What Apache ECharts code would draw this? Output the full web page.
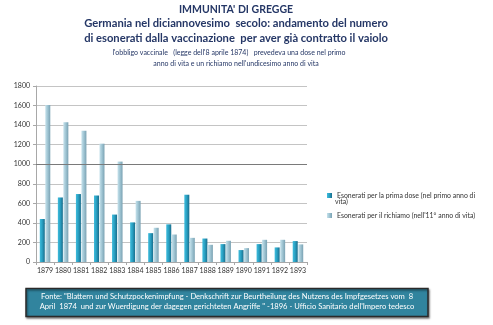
<!DOCTYPE html>
<html><head><meta charset="utf-8">
<script src="https://cdn.jsdelivr.net/npm/echarts@6/dist/echarts.min.js"></script>
<style>html,body{margin:0;padding:0;background:#fff}#c{width:493px;height:325px}</style>
</head><body><div id="c"></div>
<script>
const years = ['1879','1880','1881','1882','1883','1884','1885','1886','1887','1888','1889','1890','1891','1892','1893'];
const primaDose = [440, 660, 695, 680, 485, 405, 295, 385, 688, 240, 183, 122, 183, 149, 214];
const richiamo = [1605, 1430, 1342, 1210, 1027, 625, 350, 281, 247, 176, 217, 142, 227, 227, 180];
const yTicks = [0, 200, 400, 600, 800, 1000, 1200, 1400, 1600, 1800];
const nameA = 'Esonerati per la prima dose (nel primo anno di vita)';
const nameB = "Esonerati per il richiamo (nell'11° anno di vita)";

const F = 'Lato, "Open Sans", sans-serif';
const chart = echarts.init(document.getElementById('c'), null, {renderer: 'canvas'});
const gradA = new echarts.graphic.LinearGradient(0, 0, 1, 0, [
  {offset: 0, color: '#3fbcdc'}, {offset: 0.45, color: '#2aa2c4'}, {offset: 1, color: '#196d8c'}]);
const gradB = new echarts.graphic.LinearGradient(0, 0, 1, 0, [
  {offset: 0, color: '#c6e2ec'}, {offset: 0.45, color: '#a2c7d5'}, {offset: 1, color: '#7aa2b3'}]);
const navy = '#253766';
chart.setOption({
  animation: false,
  grid: {left: 36, right: 186, top: 86, bottom: 63},
  xAxis: {
    type: 'category', data: years,
    axisLine: {lineStyle: {color: '#a8a8a8'}},
    axisTick: {show: true, length: 3, lineStyle: {color: '#a8a8a8'}},
    axisLabel: {fontSize: 7, color: '#333', margin: 5, fontFamily: F, interval: 0}
  },
  yAxis: {
    type: 'value', min: yTicks[0], max: yTicks[yTicks.length - 1], interval: 200,
    axisLine: {show: true, lineStyle: {color: '#a8a8a8'}},
    axisTick: {show: true, length: 3, lineStyle: {color: '#a8a8a8'}},
    axisLabel: {fontSize: 7, color: '#333', margin: 6, fontFamily: F, formatter: v => String(v)},
    splitLine: {lineStyle: {color: '#c4c4c4', width: 1}}
  },
  legend: [
    {left: 327, top: 192, padding: 0, orient: 'vertical', itemWidth: 5, itemHeight: 5,
     data: [{name: nameA, icon: 'rect'}],
     formatter: () => 'Esonerati per la prima dose (nel primo anno di',
     textStyle: {fontSize: 6.9, color: '#333', fontFamily: F}},
    {left: 327, top: 212, padding: 0, orient: 'vertical', itemWidth: 5, itemHeight: 5,
     data: [{name: nameB, icon: 'rect'}],
     textStyle: {fontSize: 6.9, color: '#333', fontFamily: F}}
  ],
  series: [
    {name: nameA, type: 'bar', data: primaDose, barWidth: 5, barGap: '10%',
     itemStyle: {color: gradA},
     markLine: {silent: true, symbol: 'none', label: {show: false},
       lineStyle: {color: '#7a7a7a', type: 'solid', width: 1}, data: [{yAxis: 1000}]}},
    {name: nameB, type: 'bar', data: richiamo, barWidth: 5, barGap: '10%',
     itemStyle: {color: gradB}}
  ],
  graphic: [
    {type: 'text', x: 236, y: 4, style: {text: "IMMUNITA' DI GREGGE", fontSize: 10.5, fontWeight: 'bold', fill: navy, fontFamily: F, align: 'center'}},
    {type: 'text', x: 236, y: 18, style: {text: 'Germania nel diciannovesimo  secolo: andamento del numero', fontSize: 11.2, fontWeight: 'bold', fill: navy, fontFamily: F, align: 'center'}},
    {type: 'text', x: 236, y: 33, style: {text: 'di esonerati dalla vaccinazione  per aver già contratto il vaiolo', fontSize: 11.2, fontWeight: 'bold', fill: navy, fontFamily: F, align: 'center'}},
    {type: 'text', x: 229, y: 49, style: {text: "l'obbligo vaccinale   (legge dell'8 aprile 1874)   prevedeva una dose nel primo", fontSize: 7, fill: navy, fontFamily: F, align: 'center'}},
    {type: 'text', x: 236, y: 60, style: {text: "anno di vita e un richiamo nell'undicesimo anno di vita", fontSize: 7, fill: navy, fontFamily: F, align: 'center'}},
    {type: 'text', x: 335, y: 198, style: {text: 'vita)', fontSize: 6.9, fill: '#333', fontFamily: F}},
    {type: 'rect', shape: {x: 26, y: 288.5, width: 402, height: 28},
     style: {fill: '#31849e', stroke: '#2a2a2a', lineWidth: 1.5, shadowBlur: 2, shadowOffsetX: 1, shadowOffsetY: 1.5, shadowColor: 'rgba(0,0,0,0.45)'}},
    {type: 'text', x: 227, y: 292.5, style: {text: 'Fonte: "Blattern und Schutzpockenimpfung - Denkschrift zur Beurtheilung des Nutzens des Impfgesetzes vom  8', fontSize: 7.6, fill: '#fff', fontFamily: F, align: 'center'}},
    {type: 'text', x: 227, y: 303, style: {text: 'April  1874  und zur Wuerdigung der dagegen gerichteten Angriffe " -1896 - Ufficio Sanitario dell\'Impero tedesco', fontSize: 7.6, fill: '#fff', fontFamily: F, align: 'center'}}
  ]
});
</script></body></html>
